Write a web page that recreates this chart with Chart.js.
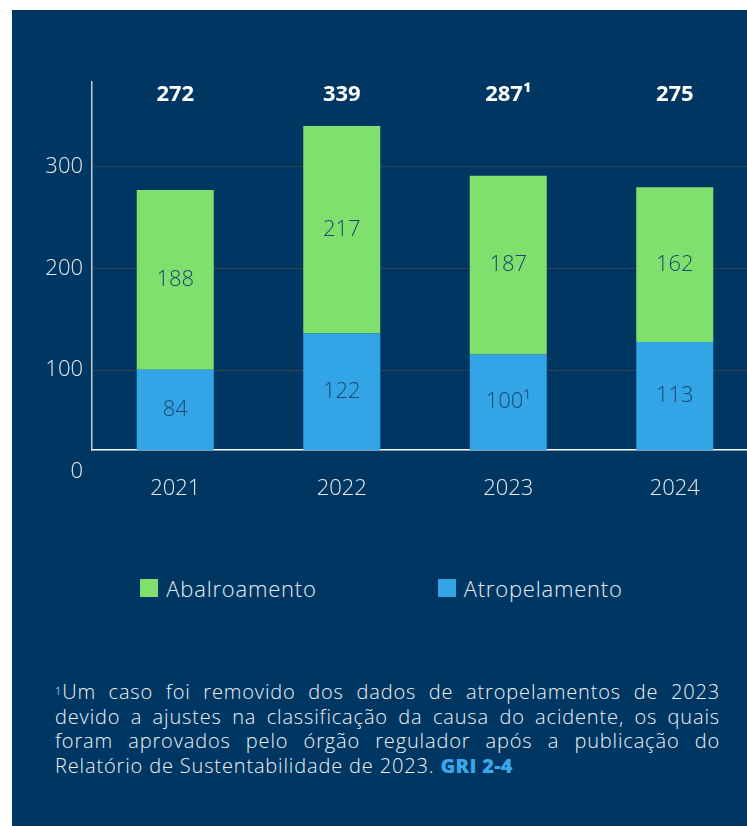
<!DOCTYPE html>
<html>
<head>
<meta charset="utf-8">
<script src="https://cdn.jsdelivr.net/npm/chart.js@4.4.1/dist/chart.umd.min.js"></script>
<style>
html,body{margin:0;padding:0;background:#ffffff;overflow:hidden;width:747px;height:826px}
#panel{position:absolute;left:12px;top:10px;width:735px;height:816px;background:#003762;overflow:hidden;font-family:"Open Sans",sans-serif}
#c{position:absolute;left:0;top:0}
#legend{position:absolute;left:0;top:558px;width:739px;display:flex;justify-content:center;gap:121px;color:#e8edf2;font-size:22px;font-weight:300;letter-spacing:0.8px}
.item{display:flex;align-items:center;gap:8px;height:40px}
.sw{width:18px;height:18px;display:inline-block}
#note{position:absolute;left:43px;top:670px;width:665px;color:#eef2f6;font-size:20px;font-weight:300;line-height:24.5px;letter-spacing:0.85px}
.l{text-align:justify;text-align-last:justify;white-space:nowrap}
.last{text-align:left;white-space:nowrap}
.gri{font-weight:800;color:#39a7ea;letter-spacing:0.3px}
.sup{font-size:11px;vertical-align:top;position:relative;top:-1px}
</style>
</head>
<body>
<div id="panel">
  <canvas id="c" width="746" height="500"></canvas>
  <div id="legend"></div>
  <div id="note">
    <div class="l"><span class="sup">1</span>Um caso foi removido dos dados de atropelamentos de 2023</div>
    <div class="l">devido a ajustes na classificação da causa do acidente, os quais</div>
    <div class="l">foram aprovados pelo órgão regulador após a publicação do</div>
    <div class="last">Relatório de Sustentabilidade de 2023. <span class="gri">GRI 2-4</span></div>
  </div>
</div>
<script>
// ---- data ----
const years = ['2021', '2022', '2023', '2024'];
const abalroamento = [188, 217, 187, 162];
const atropelamento = [84, 122, 100, 113];
const atropelamentoNotes = ['', '', '¹', ''];
const totalNotes = ['', '', '¹', ''];
const yTickValues = [0, 100, 200, 300];
const seriesNames = ['Abalroamento', 'Atropelamento'];
const seriesColors = ['#80e06e', '#33a5e6'];

const FONT = '"Open Sans", sans-serif';
const tickFont = {family: FONT, size: 22, weight: '300'};

// HTML legend built from series names / colours
const legendEl = document.getElementById('legend');
seriesNames.forEach((name, i) => {
  const item = document.createElement('div');
  item.className = 'item';
  const sw = document.createElement('span');
  sw.className = 'sw';
  sw.style.background = seriesColors[i];
  const tx = document.createElement('span');
  tx.textContent = name;
  item.appendChild(sw); item.appendChild(tx);
  legendEl.appendChild(item);
});

const valueLabels = {
  id: 'valueLabels',
  afterDatasetsDraw(chart) {
    const ctx = chart.ctx;
    ctx.save();
    ctx.textAlign = 'center';
    ctx.textBaseline = 'middle';
    ctx.font = '300 22px ' + FONT;
    ctx.fillStyle = '#1b4770';
    chart.data.datasets.forEach((ds, di) => {
      const meta = chart.getDatasetMeta(di);
      meta.data.forEach((el, i) => {
        const p = el.getProps(['x', 'y', 'base'], true);
        const note = ds.notes ? ds.notes[i] : '';
        ctx.fillText(String(ds.data[i]) + note, p.x, (p.y + p.base) / 2);
      });
    });
    ctx.font = '700 22px ' + FONT;
    ctx.fillStyle = '#ffffff';
    const meta0 = chart.getDatasetMeta(0);
    years.forEach((y, i) => {
      const total = atropelamento[i] + abalroamento[i];
      ctx.fillText(String(total) + totalNotes[i], meta0.data[i].x, chart.chartArea.top + 13);
    });
    ctx.restore();
  }
};

new Chart(document.getElementById('c'), {
  type: 'bar',
  data: {
    labels: years,
    datasets: [
      {label: seriesNames[1], data: atropelamento, notes: atropelamentoNotes, backgroundColor: seriesColors[1],
       yAxisID: 'yBars', categoryPercentage: 0.4625, barPercentage: 1},
      {label: seriesNames[0], data: abalroamento, backgroundColor: seriesColors[0],
       yAxisID: 'yBars', categoryPercentage: 0.4625, barPercentage: 1}
    ]
  },
  options: {
    responsive: false,
    animation: false,
    layout: {padding: {top: 72, left: 0, right: 0, bottom: 0}},
    plugins: {legend: {display: false}, tooltip: {enabled: false}},
    scales: {
      x: {
        stacked: true,
        offset: true,
        grid: {display: false},
        border: {color: '#ffffff', width: 1.5},
        ticks: {color: '#e6ebf1', font: tickFont, padding: 18},
        afterFit(s) { s.height = 60; }
      },
      y: {
        position: 'left',
        min: 21.2,
        max: 383.7,
        afterBuildTicks(s) { s.ticks = yTickValues.map(v => ({value: v})); },
        grid: {
          color: c => (c.tick && c.tick.value === 0) ? 'rgba(0,0,0,0)' : '#37424f',
          lineWidth: 1,
          drawTicks: false
        },
        border: {color: '#c3cad3', width: 1.5},
        ticks: {color: '#e6ebf1', font: tickFont, padding: 9},
        afterFit(s) { s.width = 80; }
      },
      yBars: {
        display: false,
        stacked: true,
        min: 0,
        max: 385
      }
    }
  },
  plugins: [valueLabels]
});
</script>
</body>
</html>
